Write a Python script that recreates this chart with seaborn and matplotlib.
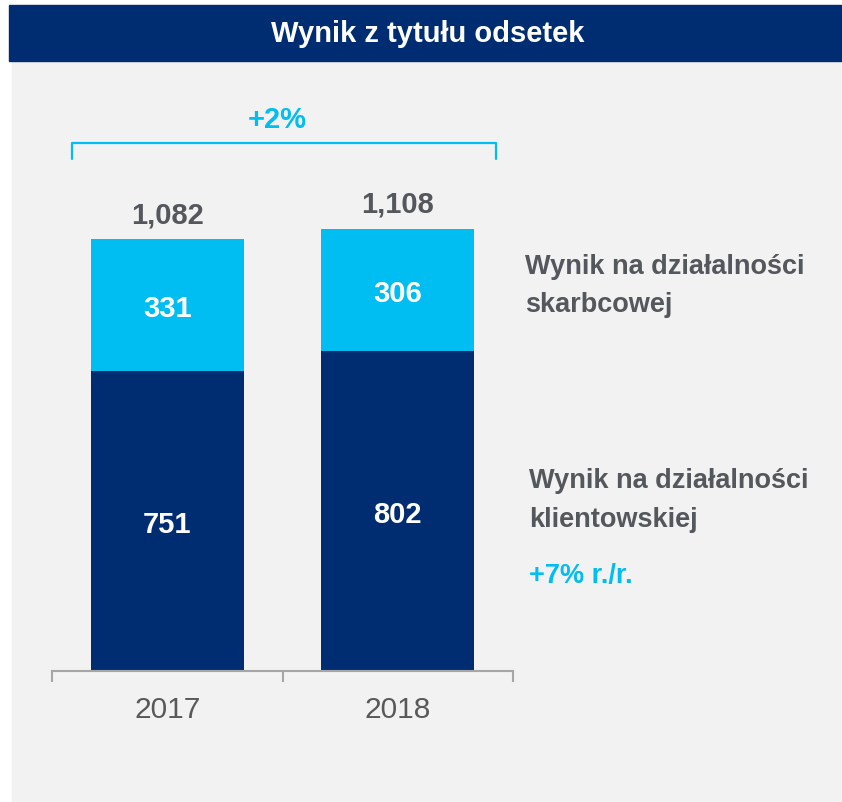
import matplotlib
matplotlib.use("Agg")
import matplotlib.pyplot as plt
import seaborn as sns
import pandas as pd
from matplotlib.patches import Rectangle

# data
years = ["2017", "2018"]
klient = [751, 802]
skarb = [331, 306]
totals = [1082, 1108]
title = "Wynik z tytułu odsetek"
growth_total = "+2%"
growth_klient = "+7% r./r."
label_skarb = ["Wynik na działalności", "skarbcowej"]
label_klient = ["Wynik na działalności", "klientowskiej"]

NAVY = "#002d72"
CYAN = "#00bef2"
GREY_TXT = "#54575c"
AXIS_GREY = "#a6a6a6"
BG = "#f2f2f2"

sns.set_theme(style="white")
plt.rcParams["font.family"] = ["Liberation Sans", "DejaVu Sans"]

W, H = 842, 803
fig = plt.figure(figsize=(W / 100, H / 100), dpi=100)
fig.patch.set_facecolor("white")


def fx(px):
    return px / W


def fy(py):
    return 1 - py / H


# background panel + title bar (drawn below the axes)
fig.patches.append(Rectangle((fx(12), 0), 1 - fx(12), fy(62), transform=fig.transFigure,
                             color=BG, zorder=-10))
fig.patches.append(Rectangle((fx(9), fy(62)), 1 - fx(9), fy(6) - fy(62), transform=fig.transFigure,
                             color=NAVY, zorder=-10))
fig.text(fx(428), fy(34), title, color="white", fontsize=21, fontweight="bold",
         ha="center", va="center")

# main axes: bottom at the axis line, top at panel top
ax = fig.add_axes([fx(52), fy(672), fx(513) - fx(52), fy(62) - fy(672)])
ax.set_zorder(5)
ax.patch.set_alpha(0)

df = pd.DataFrame({"year": years, "klient": klient, "skarb": skarb, "total": totals})
sns.barplot(data=df, x="year", y="total", color=CYAN, width=0.665, saturation=1,
            linewidth=0, ax=ax)
sns.barplot(data=df, x="year", y="klient", color=NAVY, width=0.665, saturation=1,
            linewidth=0, ax=ax)

px_per_unit = 432 / 1082
ax.set_ylim(0, 610 / px_per_unit)
ax.set_xlim(-0.5, 1.5)
ax.set_xlabel("")
ax.set_ylabel("")
ax.set_yticks([])

for s in ["left", "top", "right"]:
    ax.spines[s].set_visible(False)
ax.spines["bottom"].set_color(AXIS_GREY)
ax.spines["bottom"].set_linewidth(1.5)

ax.set_xticks([0, 1])
ax.set_xticklabels(years)
ax.set_xticks([-0.5, 0.5, 1.5], minor=True)
ax.tick_params(axis="x", which="major", length=0, pad=17, labelsize=21.5, labelcolor="#595959")
ax.tick_params(axis="x", which="minor", length=8, width=1.5, color=AXIS_GREY, direction="out",
               bottom=True)

# values inside the segments and totals on top
for i in range(len(years)):
    ax.text(i, klient[i] / 2, f"{klient[i]}", color="white", fontsize=21, fontweight="bold",
            ha="center", va="center_baseline")
    ax.text(i, klient[i] + skarb[i] / 2, f"{skarb[i]}", color="white", fontsize=21,
            fontweight="bold", ha="center", va="center_baseline")
    ax.annotate(f"{totals[i]:,}", (i, totals[i]), xytext=(0, 12), textcoords="offset points",
                ha="center", va="baseline", color=GREY_TXT, fontsize=21, fontweight="bold")

# growth bracket over both bars
top = max(totals) * 1.2 - 6
ax.plot([-0.415, -0.415, 1.428, 1.428], [top - 42, top, top, top - 42], color=CYAN, lw=1.6,
        clip_on=False, solid_capstyle="round")
ax.text(0.476, top + 40, growth_total, color=CYAN, fontsize=21, fontweight="bold",
        ha="center", va="baseline")

# side labels
fig.text(fx(525), fy(274), label_skarb[0], color=GREY_TXT, fontsize=19.5, fontweight="bold",
         ha="left", va="baseline")
fig.text(fx(525), fy(312), label_skarb[1], color=GREY_TXT, fontsize=19.5, fontweight="bold",
         ha="left", va="baseline")
fig.text(fx(529), fy(488), label_klient[0], color=GREY_TXT, fontsize=19.5, fontweight="bold",
         ha="left", va="baseline")
fig.text(fx(529), fy(527), label_klient[1], color=GREY_TXT, fontsize=19.5, fontweight="bold",
         ha="left", va="baseline")
fig.text(fx(529), fy(583), growth_klient, color=CYAN, fontsize=19.5, fontweight="bold",
         ha="left", va="baseline")

fig.savefig("out.png", dpi=100, facecolor=fig.get_facecolor())
